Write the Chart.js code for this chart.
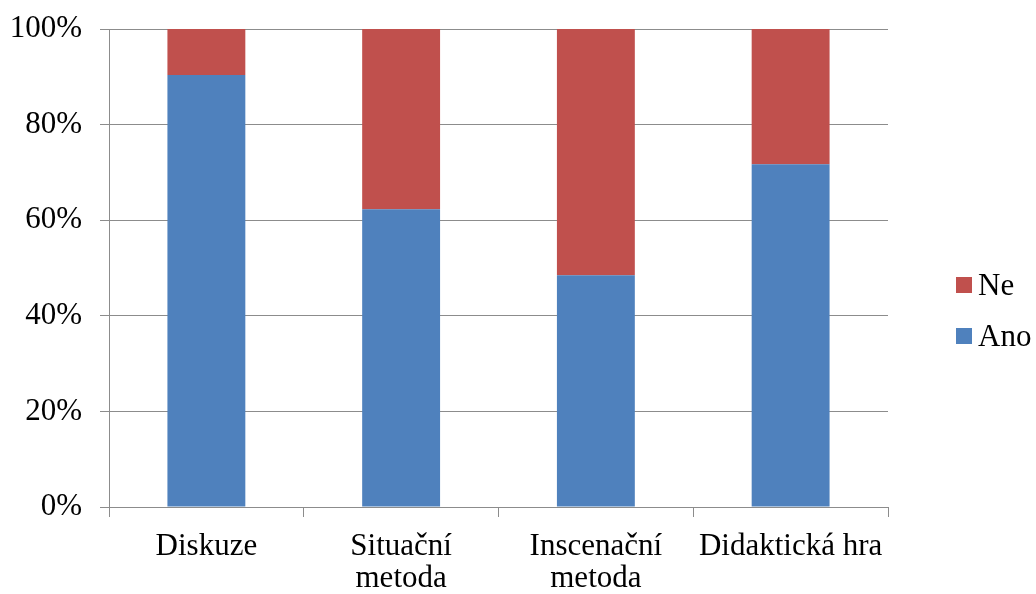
<!DOCTYPE html>
<html>
<head>
<meta charset="utf-8">
<script src="https://cdn.jsdelivr.net/npm/chart.js@4/dist/chart.umd.min.js"></script>
<style>
  html, body { margin: 0; padding: 0; background: #ffffff; }
  #wrap { width: 1036px; height: 594px; }
</style>
</head>
<body>
<div id="wrap"><canvas id="c" width="1036" height="594"></canvas></div>
<script>
// Categories (methods) and shares of answers in percent
const categories = ['Diskuze', ['Situační', 'metoda'], ['Inscenační', 'metoda'], 'Didaktická hra'];
const anoValues = [90.4, 62.3, 48.5, 71.7];
const neValues = [9.6, 37.7, 51.5, 28.3];
const yTicks = [0, 20, 40, 60, 80, 100];

const FONT = 'Liberation Serif, "Times New Roman", serif';
const GRID = '#8c8c8c';

// Legend drawn to the right of the plot, "Ne" above "Ano"
const sideLegend = {
  id: 'sideLegend',
  afterDraw(chart) {
    const ctx = chart.ctx;
    const items = chart.data.datasets.slice().reverse();
    const boxX = 956, boxSize = 16;
    const centers = [285, 336];
    ctx.save();
    ctx.font = '31px ' + FONT;
    ctx.textAlign = 'left';
    ctx.textBaseline = 'alphabetic';
    items.forEach((ds, i) => {
      const cy = centers[i];
      ctx.fillStyle = ds.backgroundColor;
      ctx.fillRect(boxX, cy - boxSize / 2, boxSize, boxSize);
      ctx.fillStyle = '#000000';
      ctx.fillText(ds.label, 978, cy + 9.5);
    });
    ctx.restore();
  }
};

new Chart(document.getElementById('c'), {
  type: 'bar',
  data: {
    labels: categories,
    datasets: [
      { label: 'Ano', data: anoValues, backgroundColor: '#4F81BD', borderWidth: 0 },
      { label: 'Ne', data: neValues, backgroundColor: '#C0504D', borderWidth: 0 }
    ]
  },
  options: {
    responsive: false,
    animation: false,
    devicePixelRatio: 1,
    layout: { padding: { left: 0, right: 148, top: 29, bottom: 0 } },
    plugins: {
      legend: { display: false },
      tooltip: { enabled: false }
    },
    datasets: { bar: { barPercentage: 0.4, categoryPercentage: 1.0 } },
    scales: {
      x: {
        stacked: true,
        afterFit(scale) { scale.height = 87; scale.paddingLeft = 0; scale.paddingRight = 0; },
        grid: {
          offset: true,
          drawOnChartArea: false,
          drawTicks: true,
          tickLength: 10,
          color: GRID
        },
        border: { display: true, color: GRID, width: 1 },
        ticks: {
          color: '#000000',
          font: { family: FONT, size: 31, lineHeight: 1.06 },
          padding: 13,
          maxRotation: 0,
          autoSkip: false
        }
      },
      y: {
        stacked: true,
        min: 0,
        max: 100,
        afterFit(scale) { scale.width = 109; scale.paddingTop = 0; scale.paddingBottom = 0; },
        afterBuildTicks(scale) {
          scale.ticks = yTicks.map(v => ({ value: v }));
        },
        grid: {
          color: GRID,
          lineWidth: 1,
          drawTicks: true,
          tickLength: 9
        },
        border: { display: true, color: GRID, width: 1 },
        ticks: {
          color: '#000000',
          font: { family: FONT, size: 31 },
          padding: 18,
          callback: v => v + '%'
        }
      }
    }
  },
  plugins: [sideLegend]
});
</script>
</body>
</html>
